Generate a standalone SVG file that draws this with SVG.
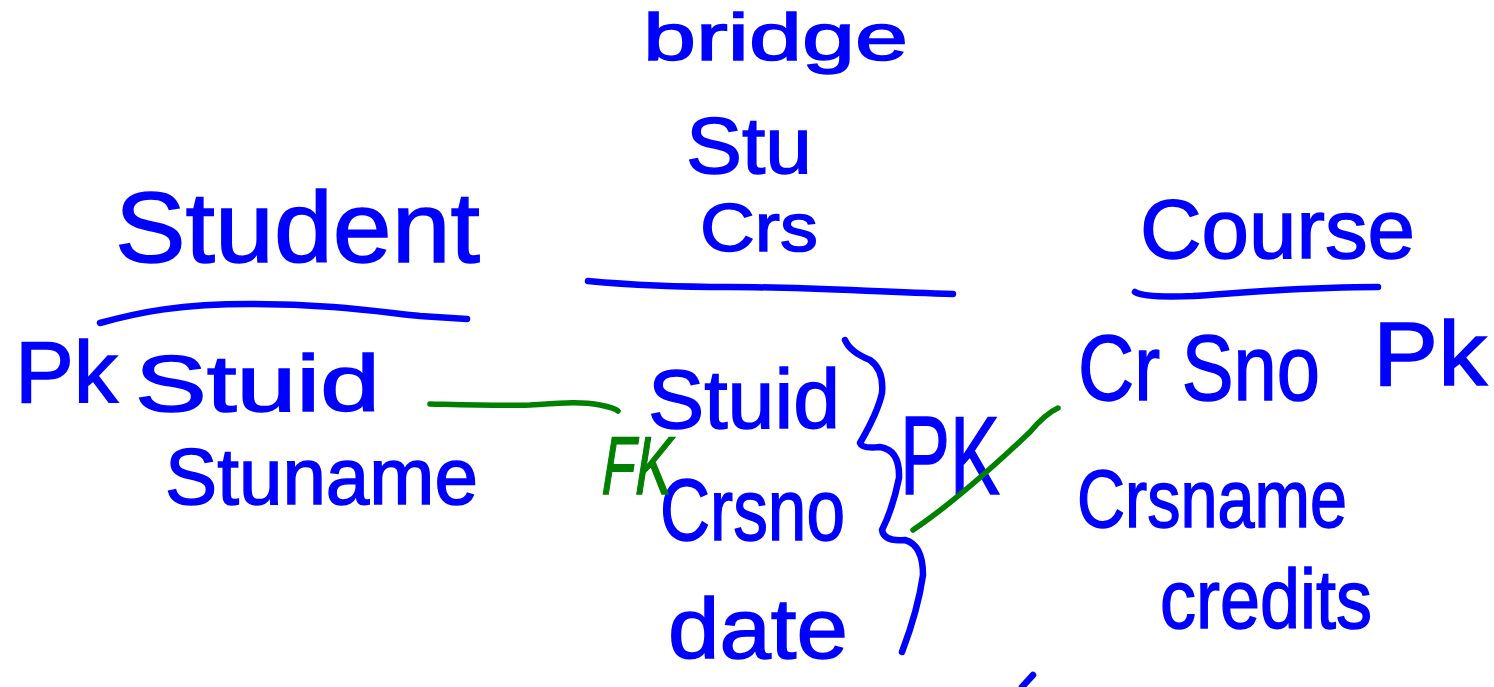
<svg xmlns="http://www.w3.org/2000/svg" width="1494" height="687" viewBox="0 0 1494 687">
<style>
.t{font-family:"Liberation Sans","DejaVu Sans",sans-serif;fill:#0000ff;stroke:#0000ff;stroke-width:1.5}
.g{font-family:"Liberation Sans","DejaVu Sans",sans-serif;fill:#008000;stroke:#008000;stroke-width:1.5}
.ink{fill:none;stroke:#0000ff;stroke-width:6.5;stroke-linecap:round;stroke-linejoin:round}
.gink{fill:none;stroke:#008000;stroke-width:5.5;stroke-linecap:round;stroke-linejoin:round}
</style>
<rect width="1494" height="687" fill="#ffffff"/>
<g id="student">
<text class="t" x="115" y="262" font-size="100" textLength="365" lengthAdjust="spacingAndGlyphs">Student</text>
<path class="ink" d="M100,323 C140,312 180,304 250,304 C330,304 380,312 420,316 L467,319"/>
<text class="t" x="15" y="402" font-size="88" textLength="103" lengthAdjust="spacingAndGlyphs">Pk</text>
<text class="t" x="135" y="411" font-size="80" textLength="245" lengthAdjust="spacingAndGlyphs">Stuid</text>
<text class="t" x="165" y="504" font-size="80" textLength="313" lengthAdjust="spacingAndGlyphs">Stuname</text>
</g>
<g id="bridge">
<text class="t" x="643" y="60" font-size="66" textLength="265" lengthAdjust="spacingAndGlyphs">bridge</text>
<text class="t" x="686" y="173" font-size="80" textLength="126" lengthAdjust="spacingAndGlyphs">Stu</text>
<text class="t" x="700" y="251" font-size="68" textLength="118" lengthAdjust="spacingAndGlyphs">Crs</text>
<path class="ink" d="M588,281 C620,284 660,287 730,287 C800,287 860,291 953,294"/>
<text class="t" x="648" y="428" font-size="84" textLength="192" lengthAdjust="spacingAndGlyphs">Stuid</text>
<text class="t" x="660" y="540" font-size="88" textLength="185" lengthAdjust="spacingAndGlyphs">Crsno</text>
<text class="t" x="668" y="658" font-size="86" textLength="180" lengthAdjust="spacingAndGlyphs">date</text>
<path class="ink" d="M845,340 Q850,352 870,360 Q884,370 882,393 Q878,412 860,443 Q862,449 880,447 Q900,450 899,478 Q893,508 882,530 Q884,542 905,540 Q923,545 923,575 Q918,610 902,652"/>
<text class="t" x="900" y="494" font-size="112" textLength="100" lengthAdjust="spacingAndGlyphs">PK</text>
</g>
<g id="course">
<text class="t" x="1140" y="258" font-size="84" textLength="275" lengthAdjust="spacingAndGlyphs">Course</text>
<path class="ink" d="M1135,292 Q1145,298 1193,296 C1240,293 1300,287 1378,287"/>
<text class="t" x="1078" y="400" font-size="92" textLength="242" lengthAdjust="spacingAndGlyphs">Cr Sno</text>
<text class="t" x="1373" y="385" font-size="90" textLength="114" lengthAdjust="spacingAndGlyphs">Pk</text>
<text class="t" x="1077" y="527" font-size="82" textLength="270" lengthAdjust="spacingAndGlyphs">Crsname</text>
<text class="t" x="1160" y="628" font-size="84" textLength="212" lengthAdjust="spacingAndGlyphs">credits</text>
</g>
<g id="connectors">
<path class="gink" d="M430,404 C470,405 500,406 530,405 C560,403 580,401 600,405 Q615,408 618,411"/>
<text class="g" x="597" y="494" font-size="82" textLength="70" lengthAdjust="spacingAndGlyphs" transform="translate(80,0) skewX(-9)">FK</text>
<path class="gink" d="M913,530 C950,505 990,470 1030,432 Q1045,414 1058,408"/>
<path class="ink" d="M1022,687 L1033,675"/>
</g>
</svg>
